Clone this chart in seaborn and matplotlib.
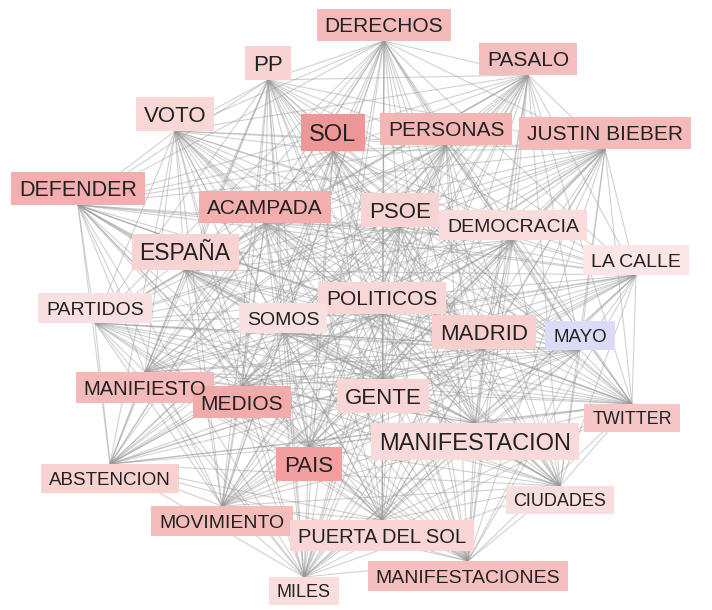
import itertools
import numpy as np
import matplotlib
matplotlib.use("Agg")
import matplotlib.pyplot as plt
from matplotlib.patches import Rectangle
import seaborn as sns

sns.set_theme(style="white")
plt.rcParams['font.family'] = ['Liberation Sans', 'DejaVu Sans']

# word co-occurrence network (node layout in pixel units, y grows downward)
words = ["DERECHOS", "PP", "PASALO", "VOTO", "SOL", "PERSONAS", "JUSTIN BIEBER",
         "DEFENDER", "ACAMPADA", "PSOE", "DEMOCRACIA", "ESPAÑA", "LA CALLE",
         "PARTIDOS", "POLITICOS", "SOMOS", "MADRID", "MAYO", "MANIFIESTO", "MEDIOS",
         "GENTE", "TWITTER", "MANIFESTACION", "PAIS", "ABSTENCION", "CIUDADES",
         "MOVIMIENTO", "PUERTA DEL SOL", "MANIFESTACIONES", "MILES"]
node_x = [384, 268, 528, 175, 333, 446, 605, 78, 265, 400, 513, 185, 636,
          95, 382, 283, 484, 580, 145, 242, 383, 632, 475, 309, 110, 560,
          222, 382, 468, 304]
node_y = [41, 80, 75, 131, 151, 145, 149, 205, 223, 227, 240, 270, 275,
          323, 314, 333, 349, 350, 372, 386, 379, 404, 423, 447, 464, 486,
          506, 520, 561, 577]
mentions = [150, 160, 150, 160, 170, 150, 150, 155, 150, 160, 140, 165, 140,
            140, 150, 140, 160, 135, 145, 150, 160, 130, 170, 160, 135, 130,
            140, 145, 140, 130]
# sentiment: negative -> blue, positive -> red
sentiment = [0.55, 0.35, 0.51, 0.32, 0.82, 0.58, 0.55, 0.63, 0.64, 0.35, 0.28,
             0.35, 0.21, 0.24, 0.32, 0.24, 0.38, -0.47, 0.55, 0.67, 0.33, 0.44,
             0.30, 0.75, 0.36, 0.26, 0.53, 0.33, 0.50, 0.26]

W, H, DPI = 712, 610, 100
fig = plt.figure(figsize=(W / DPI, H / DPI), dpi=DPI)
ax = fig.add_axes([0, 0, 1, 1])
ax.set_xlim(0, W)
ax.set_ylim(H, 0)
ax.axis("off")

cmap = sns.blend_palette(["#b4b4f0", "#ffffff", "#ec8080"], as_cmap=True)

# edges between every pair of words
for i, j in itertools.combinations(range(len(words)), 2):
    ax.plot([node_x[i], node_x[j]], [node_y[i], node_y[j]],
            color="#9a9a9a", lw=0.8, alpha=0.45, zorder=1,
            solid_capstyle="butt")

renderer = fig.canvas.get_renderer()
split_y = 355  # labels sit above nodes in the upper part, below in the lower part
for w, x, y, m, s in zip(words, node_x, node_y, mentions, sentiment):
    fs = m / 10.0
    fs_px = fs * DPI / 72
    box_h = 1.55 * fs_px
    cy = y - box_h / 2 if y < split_y else y + box_h / 2
    cap = 0.716 * fs_px
    t = ax.text(x, cy + cap / 2, w, ha="center", va="baseline",
                fontsize=fs, color="#222222", zorder=3)
    tw = t.get_window_extent(renderer).width
    padx = 8
    ax.add_patch(Rectangle((x - tw / 2 - padx, cy - box_h / 2), tw + 2 * padx, box_h,
                           facecolor=cmap((s + 1) / 2), edgecolor="none", zorder=2))

fig.savefig("out.png", dpi=DPI)
